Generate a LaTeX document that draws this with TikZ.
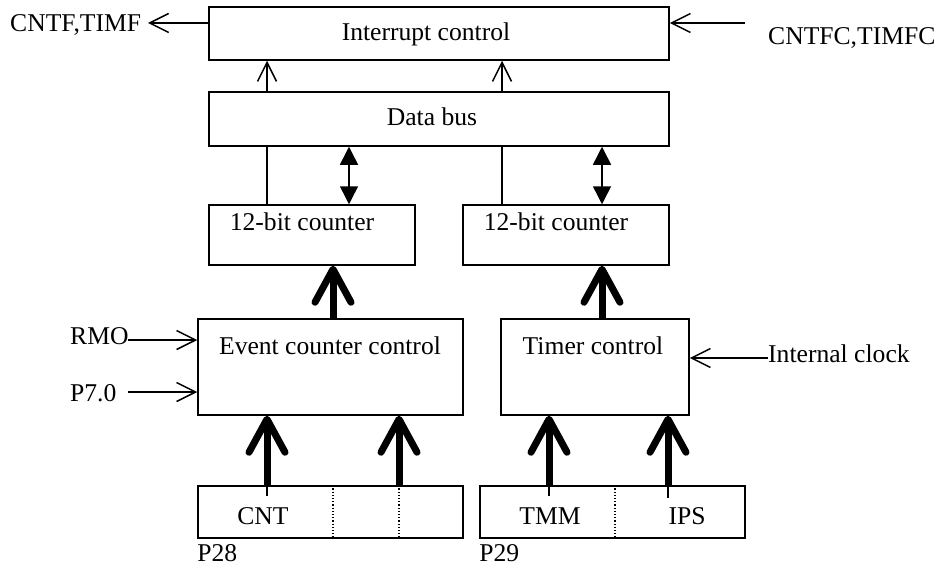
\documentclass[tikz,border=0pt]{standalone}
\usepackage{fontspec}
\setmainfont{Liberation Serif}
\usetikzlibrary{arrows.meta, positioning}
\tikzset{>={Straight Barb[length=19pt,width=19pt]}}

\begin{document}
\begin{tikzpicture}[x=1pt, y=-1pt, font=\fontsize{25.6}{30}\selectfont, box/.style={draw, line width=1.5pt, inner sep=0pt}, txt/.style={inner sep=0pt, anchor=base}, wire/.style={line width=1.5pt}, bus/.style={line width=7pt, -{Straight Barb[length=33pt,width=36pt,round]}}, dbl/.style={line width=1.5pt, {Triangle[length=18pt,width=18pt]}-{Triangle[length=18pt,width=18pt]}}, divider/.style={dotted, line width=1.2pt}]
    \useasboundingbox (0,0) rectangle (941,567);

    %Boxes
    \node[box, minimum width=460pt, minimum height=53pt](intr) at (439,33.5){};
    \node[box, minimum width=460pt, minimum height=54pt](dbus) at (439,119){};
    \node[box, minimum width=206pt, minimum height=60pt](cntA) at (312,235){};
    \node[box, minimum width=206pt, minimum height=60pt](cntB) at (566,235){};
    \node[box, minimum width=265pt, minimum height=96pt](evt) at (330.5,367){};
    \node[box, minimum width=188pt, minimum height=96pt](tmr) at (595,367){};
    \node[box, minimum width=265pt, minimum height=52pt](pA) at (330.5,512){};
    \node[box, minimum width=265pt, minimum height=52pt](pB) at (612.5,512){};

    %Texts
    \node[txt](intrtxt) at (426,41){Interrupt control};
    \node[txt](dbustxt) at (432,125){Data bus};
    \node[txt](cntAtxt) at (302,230){12-bit counter};
    \node[txt](cntBtxt) at (556,230){12-bit counter};
    \node[txt](evttxt) at (330,354){Event counter control};
    \node[txt](tmrtxt) at (593,354){Timer control};
    \node[txt](cnt) at (263,524){CNT};
    \node[txt](tmm) at (550,524){TMM};
    \node[txt](ips) at (687,524){IPS};
    \node[txt](pAlbl)[below=6pt of pA.south west, anchor=north west]{P28};
    \node[txt](pBlbl)[below=6pt of pB.south west, anchor=north west]{P29};

    %Signals
    \node[txt, anchor=base west](cntf) at (10,32){CNTF,TIMF};
    \node[txt, anchor=base west](cntfc) at (768,45){CNTFC,TIMFC};
    \node[txt, anchor=base west](rmo) at (70,344){RMO};
    \node[txt, anchor=base west](p70) at (70,401){P7.0};
    \node[txt, anchor=base west](clk) at (768,362){Internal clock};
    \coordinate (cntfend) at (148,23);
    \coordinate (cntfcstart) at (745,23);
    \coordinate (rmoend) at (128,340);
    \coordinate (p70end) at (128,392);
    \coordinate (clkend) at (768,358);

    %Lanes
    \coordinate (laneA) at (267,0);
    \coordinate (laneB) at (349,0);
    \coordinate (laneC) at (502,0);
    \coordinate (laneD) at (602,0);
    \coordinate (laneE) at (333,0);
    \coordinate (laneF) at (399,0);
    \coordinate (laneG) at (549,0);
    \coordinate (laneH) at (668,0);
    \coordinate (laneI) at (615,0);

    %Lines
    \draw[wire, ->] (intr.west |- cntfend) -- (cntfend);
    \draw[wire, ->] (cntfcstart) -- (intr.east |- cntfcstart);
    \draw[wire, ->] (rmoend) -- (evt.west |- rmoend);
    \draw[wire, ->] (p70end) -- (evt.west |- p70end);
    \draw[wire, ->] (clkend) -- (tmr.east |- clkend);
    \draw[wire, ->] (dbus.north -| laneA) -- (intr.south -| laneA);
    \draw[wire, ->] (dbus.north -| laneC) -- (intr.south -| laneC);
    \draw[wire] (dbus.south -| laneA) -- (cntA.north -| laneA);
    \draw[wire] (dbus.south -| laneC) -- (cntB.north -| laneC);
    \draw[dbl] (dbus.south -| laneB) -- (cntA.north -| laneB);
    \draw[dbl] (dbus.south -| laneD) -- (cntB.north -| laneD);

    %Buses
    \draw[bus] (evt.north -| laneE) -- (cntA.south -| laneE);
    \draw[bus] (tmr.north -| laneD) -- (cntB.south -| laneD);
    \draw[bus] (pA.north -| laneA) -- (evt.south -| laneA);
    \draw[bus] (pA.north -| laneF) -- (evt.south -| laneF);
    \draw[bus] (pB.north -| laneG) -- (tmr.south -| laneG);
    \draw[bus] (pB.north -| laneH) -- (tmr.south -| laneH);
    \draw[wire] (pA.north -| laneA) -- +(0,11);
    \draw[wire] (pB.north -| laneG) -- +(0,11);
    \draw[wire] (pB.north -| laneH) -- +(0,13);

    %Dividers
    \draw[divider] (pA.north -| laneE) -- (pA.south -| laneE);
    \draw[divider] (pA.north -| laneF) -- (pA.south -| laneF);
    \draw[divider] (pB.north -| laneI) -- (pB.south -| laneI);
    
\end{tikzpicture}
\end{document}
